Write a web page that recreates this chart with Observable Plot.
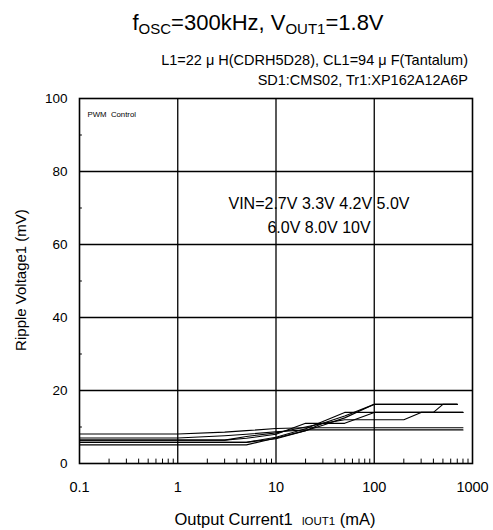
<!DOCTYPE html>
<html><head><meta charset="utf-8">
<script src="https://cdn.jsdelivr.net/npm/d3@7"></script>
<script src="https://cdn.jsdelivr.net/npm/@observablehq/plot@0.6"></script>
<style>
body{margin:0;background:#fff;}
#chart{width:493px;height:530px;}
</style>
</head><body><div id="chart"></div>
<script>
// ---- data ----
const vin = ["2.7V", "3.3V", "4.2V", "5.0V", "6.0V", "8.0V", "10V"];
const iout = [0.1, 1, 3, 5, 10, 20, 30, 50, 100, 200, 300, 400, 500, 700, 800];
const v2_7 = [8.1, 8.1, 8.6, 9.0, 9.6, 9.8, 9.8, 9.8, 9.8, 9.8, 9.8, 9.8, 9.8, 9.8, 9.8];
const v3_3 = [7.0, 7.0, 7.6, 8.0, 8.7, 9.2, 9.2, 9.2, 9.2, 9.2, 9.2, 9.2, 9.2, 9.2, 9.2];
const v4_2 = [6.4, 6.4, 6.4, 7.4, 8.4, 10.0, 11.0, 12.0, 12.0, 12.0, 14.0, 14.0, 14.0, 14.0, 14.0];
const v5_0 = [6.4, 6.4, 6.4, 6.9, 8.0, 11.0, 11.0, 11.0, 14.0, 14.0, 14.0, 14.0, 16.2, 16.2, null];
const v6_0 = [5.8, 5.8, 5.8, 5.8, 7.2, 9.5, 11.5, 14.0, 14.0, 14.0, 14.0, 14.0, 14.0, 14.0, 14.0];
const v8_0 = [5.8, 5.8, 5.8, 5.8, 6.8, 9.0, 11.0, 13.0, 16.2, 16.2, 16.2, 16.2, 16.2, 16.2, null];
const v10  = [5.1, 5.1, 5.1, 5.1, 7.0, 9.0, 10.5, 12.5, 16.2, 16.2, 16.2, 16.2, 16.2, 16.2, null];
const seriesValues = [v2_7, v3_3, v4_2, v5_0, v6_0, v8_0, v10];

const xTicks = [0.1, 1, 10, 100, 1000];
const yTicks = [0, 20, 40, 60, 80, 100];
const xGrid = [1, 10, 100];
const yGrid = [20, 40, 60, 80];
const yMinor = [10, 30, 50, 70, 90];
const xMinor = [];
for (const dec of [0.1, 1, 10, 100]) for (let k = 2; k <= 9; k++) xMinor.push(+(dec * k).toPrecision(3));

const titleMain = ["f", "OSC", "=300kHz, V", "OUT1", "=1.8V"];
const subtitle1 = "L1=22 μ H(CDRH5D28), CL1=94 μ F(Tantalum)";
const subtitle2 = "SD1:CMS02, Tr1:XP162A12A6P";
const pwmLabel = "PWM  Control";
const vinNote = "VIN=2.7V 3.3V 4.2V 5.0V\n6.0V 8.0V 10V";
const yLabel = "Ripple Voltage1 (mV)";
const xLabelParts = ["Output Current1  ", "lOUT1", " (mA)"];

const table = [];
seriesValues.forEach((vals, s) => vals.forEach((v, i) => { if (v != null) table.push({vin: vin[s], iout: iout[i], v}); }));

const font = "'Liberation Sans', Arial, Helvetica, sans-serif";

const chart = Plot.plot({
  width: 493, height: 530,
  marginTop: 98, marginRight: 21, marginBottom: 67, marginLeft: 79,
  style: {fontFamily: font, fontSize: "14px", background: "white", color: "black"},
  x: {type: "log", domain: [0.1, 1000]},
  y: {domain: [0, 100]},
  marks: [
    Plot.ruleX(xGrid, {stroke: "black", strokeWidth: 1.3}),
    Plot.ruleY(yGrid, {stroke: "black", strokeWidth: 1.3}),
    Plot.ruleX(xMinor, {y1: 0, y2: 1.2, stroke: "black", strokeWidth: 1}),
    Plot.ruleY(yMinor, {x1: 0.1, x2: 0.107, stroke: "black", strokeWidth: 1}),
    Plot.line(table, {x: "iout", y: "v", z: "vin", stroke: "black", strokeWidth: 1.1}),
    Plot.axisX(xTicks, {tickSize: 0, tickPadding: 18, fontSize: 14.5, tickFormat: d => d < 1 ? "0.1" : String(d), label: null}),
    Plot.axisY(yTicks, {tickSize: 0, tickPadding: 12, fontSize: 13.5, label: null}),
    Plot.frame({stroke: "black", strokeWidth: 1.6}),
    Plot.text([pwmLabel], {frameAnchor: "top-left", dx: 8, dy: 13, fontSize: 7.8, textAnchor: "start"}),
    Plot.text([vinNote], {frameAnchor: "top", dx: 43, dy: 115, fontSize: 16, lineHeight: 1.5, textAnchor: "middle", lineAnchor: "middle"})
  ]
});
document.getElementById("chart").appendChild(chart);

const svg = d3.select(chart);
// Title
const t = svg.append("text").attr("x", 258).attr("y", 30).attr("text-anchor", "middle")
  .attr("font-family", font).attr("font-size", 22).attr("fill", "black");
titleMain.forEach((p, i) => {
  const sub = i % 2 === 1;
  t.append("tspan").text(p).attr("font-size", sub ? 15 : 22).attr("dy", sub ? 4 : (i > 0 ? -4 : 0));
});
// Subtitles
svg.append("text").attr("x", 468).attr("y", 65).attr("text-anchor", "end")
  .attr("font-family", font).attr("font-size", 14.5).attr("fill", "black").text(subtitle1);
svg.append("text").attr("x", 468).attr("y", 85).attr("text-anchor", "end")
  .attr("font-family", font).attr("font-size", 14.5).attr("fill", "black").text(subtitle2);
// X label
const xl = svg.append("text").attr("x", 275).attr("y", 525).attr("text-anchor", "middle")
  .attr("font-family", font).attr("font-size", 16.5).attr("fill", "black");
xl.append("tspan").text(xLabelParts[0]);
xl.append("tspan").text(xLabelParts[1]).attr("font-size", 11.5);
xl.append("tspan").text(xLabelParts[2]);
// Y label
svg.append("text").attr("transform", "translate(26,280) rotate(-90)").attr("text-anchor", "middle")
  .attr("font-family", font).attr("font-size", 15).attr("fill", "black").text(yLabel);
</script>
</body></html>
